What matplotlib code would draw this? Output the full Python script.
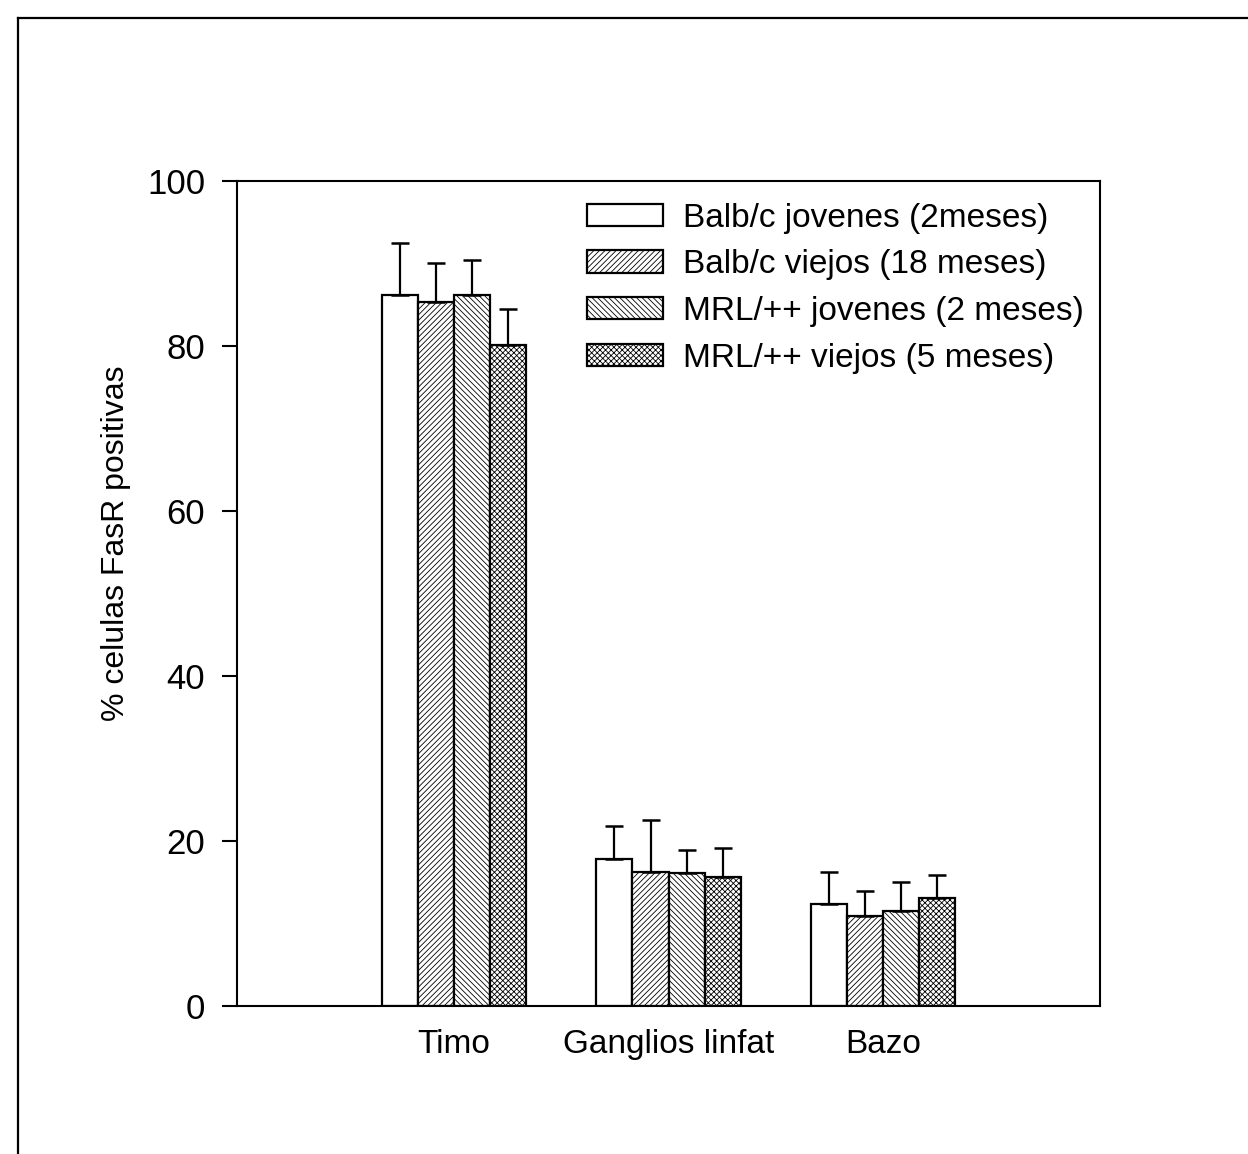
import matplotlib
matplotlib.use("Agg")
import matplotlib.pyplot as plt
import numpy as np
from matplotlib.lines import Line2D

plt.rcParams["font.family"] = ["Liberation Sans", "DejaVu Sans"]
plt.rcParams["hatch.linewidth"] = 0.6

# datos
organos = ["Timo", "Ganglios linfat", "Bazo"]
grupos = ["Balb/c jovenes (2meses)", "Balb/c viejos (18 meses)",
          "MRL/++ jovenes (2 meses)", "MRL/++ viejos (5 meses)"]
medias = [
    [86.2, 17.8, 12.4],
    [85.3, 16.3, 10.9],
    [86.2, 16.1, 11.6],
    [80.2, 15.7, 13.1],
]
errores = [
    [6.3, 4.0, 3.9],
    [4.8, 6.3, 3.1],
    [4.2, 2.9, 3.5],
    [4.3, 3.5, 2.8],
]
tramas = ["", "//////", "\\\\\\\\\\\\", "xxxxxx"]

fig = plt.figure(figsize=(12.48, 11.54), dpi=100)
ax = fig.add_axes([0.19, 0.128, 0.6914, 0.715])

x = np.arange(len(organos))
ancho = 0.168
for i, grupo in enumerate(grupos):
    pos = x + (i - 1.5) * ancho
    ax.bar(pos, medias[i], ancho, color="white", edgecolor="black",
           linewidth=1.6, hatch=tramas[i], label=grupo, zorder=2)
    ax.errorbar(pos, medias[i], yerr=[np.zeros(3), errores[i]], fmt="none",
                ecolor="black", elinewidth=1.6, capsize=6.5, capthick=1.8, zorder=3)

ax.set_xlim(-1.01, 3.01)
ax.set_ylim(0, 100)
ax.set_yticks([0, 20, 40, 60, 80, 100])
ax.set_xticks(x)
ax.set_xticklabels(organos)
ax.tick_params(axis="x", length=0, pad=16, labelsize=24)
ax.tick_params(axis="y", direction="out", length=11, width=1.5, pad=12, labelsize=25)
for s in ax.spines.values():
    s.set_linewidth(1.5)
ax.set_ylabel("% celulas FasR positivas", fontsize=23)
ax.yaxis.set_label_coords(-0.123, 0.561)

leg = ax.legend(loc="upper left", bbox_to_anchor=(0.405, 0.974), frameon=False,
                fontsize=24, handlelength=2.28, handleheight=0.66,
                handletextpad=0.6, labelspacing=0.47, borderpad=0, borderaxespad=0)

# marco exterior de la figura
fig.add_artist(Line2D([0.0144, 0.0144], [0.0, 0.984], transform=fig.transFigure,
                      color="black", linewidth=1.6))
fig.add_artist(Line2D([0.0144, 1.0], [0.984, 0.984], transform=fig.transFigure,
                      color="black", linewidth=1.6))

fig.savefig("out.png", dpi=100)
